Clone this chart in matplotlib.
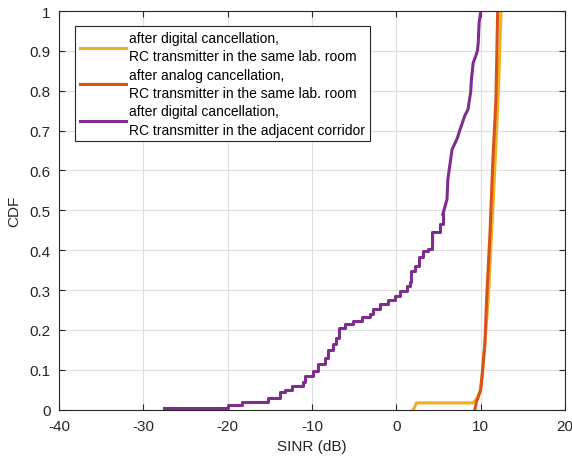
import matplotlib
matplotlib.use('Agg')
import matplotlib.pyplot as plt
from matplotlib.ticker import FuncFormatter

plt.rcParams['font.family'] = ['Liberation Sans', 'DejaVu Sans']
plt.rcParams['axes.unicode_minus'] = False

# SINR (dB) / CDF
x_dig_room = [2.0, 2.4, 9.1, 9.6, 9.9, 10.2, 10.5, 10.9, 11.3, 11.7, 12.1, 12.4]
y_dig_room = [0.0, 0.017, 0.017, 0.03, 0.045, 0.09, 0.17, 0.28, 0.45, 0.62, 0.80, 1.0]

x_ana_room = [9.3, 9.5, 10.0, 10.2, 10.5, 10.7, 11.1, 11.4, 11.8, 12.0]
y_ana_room = [0.0, 0.02, 0.05, 0.095, 0.17, 0.28, 0.445, 0.61, 0.78, 1.0]

# corridor curve: lower part is a staircase, upper part dense
x_corr_lo = [-27.5, -20.0, -18.3, -15.2, -13.8, -13.2, -12.4, -11.1, -10.8, -9.9,
             -9.3, -8.5, -8.1, -7.5, -7.1, -6.8, -6.1, -5.2, -4.1, -3.1, -2.8,
             -2.0, -1.0, -0.2, 0.4, 1.2, 1.6, 1.7, 2.2, 2.7, 3.1, 3.7, 4.2,
             5.2, 5.5]
y_corr_lo = [0.004, 0.012, 0.02, 0.029, 0.044, 0.05, 0.06, 0.069, 0.084, 0.097,
             0.115, 0.13, 0.15, 0.165, 0.18, 0.205, 0.215, 0.222, 0.232, 0.24, 0.252,
             0.265, 0.275, 0.285, 0.297, 0.31, 0.32, 0.348, 0.36, 0.382, 0.398, 0.403, 0.445,
             0.465, 0.49]
x_corr_hi = [5.5, 6.0, 6.1, 6.6, 7.2, 7.5, 8.1, 8.5, 8.6, 8.8, 8.9, 9.1, 9.4, 9.6,
             9.7, 9.8, 10.0]
y_corr_hi = [0.49, 0.528, 0.578, 0.653, 0.68, 0.70, 0.737, 0.754, 0.77, 0.796, 0.83,
             0.87, 0.887, 0.90, 0.92, 0.97, 1.0]

labels = ['after digital cancellation,\nRC transmitter in the same lab. room',
          'after analog cancellation,\nRC transmitter in the same lab. room',
          'after digital cancellation,\nRC transmitter in the adjacent corridor']

fig = plt.figure(figsize=(5.72, 4.64), dpi=100)
ax = fig.add_axes([0.103, 0.115, 0.885, 0.859])

ax.plot(x_dig_room, y_dig_room, color='#EDB120', lw=2.2, label=labels[0])
ax.plot(x_ana_room, y_ana_room, color='#D95319', lw=2.2, label=labels[1])
ax.step(x_corr_lo, y_corr_lo, where='post', color='#7E2F8E', lw=2.2, label=labels[2])
ax.plot(x_corr_hi, y_corr_hi, color='#7E2F8E', lw=2.2)

ax.set_xlim(-40, 20)
ax.set_ylim(0, 1)
ax.set_xticks(range(-40, 21, 10))
ax.set_yticks([i / 10 for i in range(11)])
ax.yaxis.set_major_formatter(FuncFormatter(lambda v, p: '%g' % v))
ax.grid(True, color='#dfdfdf', lw=0.8)
ax.set_axisbelow(True)
ax.tick_params(direction='in', top=True, right=True, labelsize=11, colors='#262626', length=4)
ax.tick_params(axis='x', pad=7)
ax.tick_params(axis='y', pad=6)
for s in ax.spines.values():
    s.set_color('#262626')
    s.set_linewidth(0.8)

ax.set_xlabel('SINR (dB)', fontsize=11, color='#262626', labelpad=4)
ax.set_ylabel('CDF', fontsize=11, color='#262626', labelpad=6)

leg = ax.legend(loc='upper left', bbox_to_anchor=(0.0316, 0.962), borderaxespad=0,
                fontsize=10, handlelength=3.3, handletextpad=0.25, borderpad=0.35,
                labelspacing=0.3, fancybox=False, framealpha=1, edgecolor='#262626')
for t in leg.get_texts():
    t.set_linespacing(1.4)
leg.get_frame().set_linewidth(0.8)

fig.savefig('out.png', dpi=100)
